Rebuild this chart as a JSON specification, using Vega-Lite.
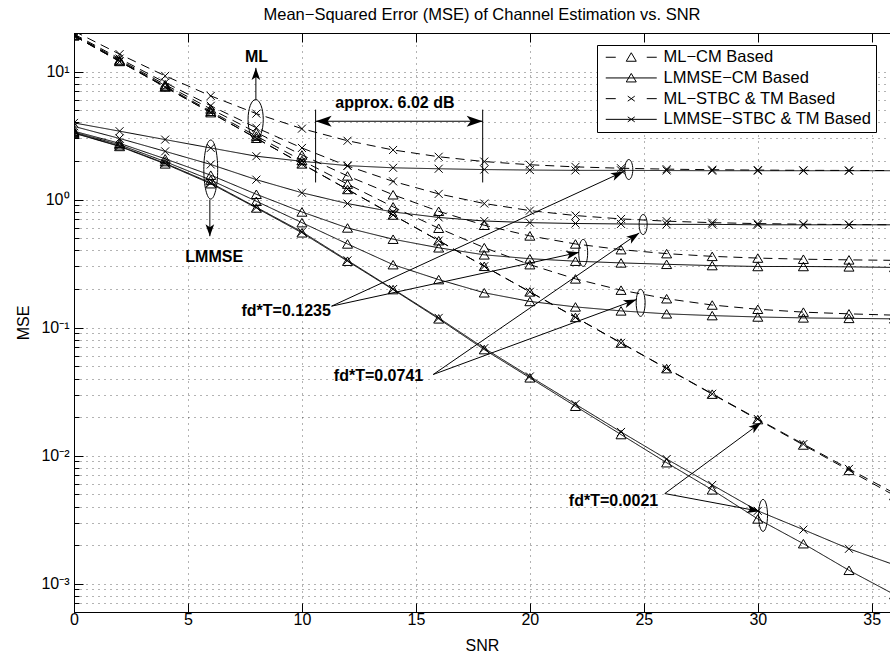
{
  "$schema": "https://vega.github.io/schema/vega-lite/v6.json",
  "width": 816,
  "height": 579,
  "autosize": {"type": "none"},
  "padding": {"left": 74, "top": 33, "right": 0, "bottom": 45},
  "background": "white",
  "title": {"text": "Mean−Squared Error (MSE) of Channel Estimation vs. SNR", "fontSize": 16.5, "fontWeight": "normal", "font": "Liberation Sans", "color": "black", "frame": "group", "offset": 9},
  "config": {
    "view": {"stroke": "black", "strokeWidth": 1},
    "font": "Liberation Sans"
  },
  "datasets": {
    "curves": [
      {"snr":0,"mse":19.33,"est":"ML","sch":"CM","fd":"0.1235"},{"snr":2,"mse":12.32,"est":"ML","sch":"CM","fd":"0.1235"},{"snr":4,"mse":7.90,"est":"ML","sch":"CM","fd":"0.1235"},{"snr":6,"mse":5.10,"est":"ML","sch":"CM","fd":"0.1235"},{"snr":8,"mse":3.34,"est":"ML","sch":"CM","fd":"0.1235"},{"snr":10,"mse":2.23,"est":"ML","sch":"CM","fd":"0.1235"},{"snr":12,"mse":1.53,"est":"ML","sch":"CM","fd":"0.1235"},{"snr":14,"mse":1.09,"est":"ML","sch":"CM","fd":"0.1235"},{"snr":16,"mse":0.81,"est":"ML","sch":"CM","fd":"0.1235"},{"snr":18,"mse":0.63,"est":"ML","sch":"CM","fd":"0.1235"},{"snr":20,"mse":0.52,"est":"ML","sch":"CM","fd":"0.1235"},{"snr":22,"mse":0.45,"est":"ML","sch":"CM","fd":"0.1235"},{"snr":24,"mse":0.406,"est":"ML","sch":"CM","fd":"0.1235"},{"snr":26,"mse":0.378,"est":"ML","sch":"CM","fd":"0.1235"},{"snr":28,"mse":0.36,"est":"ML","sch":"CM","fd":"0.1235"},{"snr":30,"mse":0.349,"est":"ML","sch":"CM","fd":"0.1235"},{"snr":32,"mse":0.342,"est":"ML","sch":"CM","fd":"0.1235"},{"snr":34,"mse":0.338,"est":"ML","sch":"CM","fd":"0.1235"},{"snr":36,"mse":0.335,"est":"ML","sch":"CM","fd":"0.1235"},
      {"snr":0,"mse":19.12,"est":"ML","sch":"CM","fd":"0.0741"},{"snr":2,"mse":12.11,"est":"ML","sch":"CM","fd":"0.0741"},{"snr":4,"mse":7.69,"est":"ML","sch":"CM","fd":"0.0741"},{"snr":6,"mse":4.89,"est":"ML","sch":"CM","fd":"0.0741"},{"snr":8,"mse":3.13,"est":"ML","sch":"CM","fd":"0.0741"},{"snr":10,"mse":2.02,"est":"ML","sch":"CM","fd":"0.0741"},{"snr":12,"mse":1.32,"est":"ML","sch":"CM","fd":"0.0741"},{"snr":14,"mse":0.877,"est":"ML","sch":"CM","fd":"0.0741"},{"snr":16,"mse":0.597,"est":"ML","sch":"CM","fd":"0.0741"},{"snr":18,"mse":0.421,"est":"ML","sch":"CM","fd":"0.0741"},{"snr":20,"mse":0.31,"est":"ML","sch":"CM","fd":"0.0741"},{"snr":22,"mse":0.24,"est":"ML","sch":"CM","fd":"0.0741"},{"snr":24,"mse":0.196,"est":"ML","sch":"CM","fd":"0.0741"},{"snr":26,"mse":0.168,"est":"ML","sch":"CM","fd":"0.0741"},{"snr":28,"mse":0.15,"est":"ML","sch":"CM","fd":"0.0741"},{"snr":30,"mse":0.139,"est":"ML","sch":"CM","fd":"0.0741"},{"snr":32,"mse":0.132,"est":"ML","sch":"CM","fd":"0.0741"},{"snr":34,"mse":0.128,"est":"ML","sch":"CM","fd":"0.0741"},{"snr":36,"mse":0.125,"est":"ML","sch":"CM","fd":"0.0741"},
      {"snr":0,"mse":19.0,"est":"ML","sch":"CM","fd":"0.0021"},{"snr":2,"mse":11.99,"est":"ML","sch":"CM","fd":"0.0021"},{"snr":4,"mse":7.565,"est":"ML","sch":"CM","fd":"0.0021"},{"snr":6,"mse":4.773,"est":"ML","sch":"CM","fd":"0.0021"},{"snr":8,"mse":3.011,"est":"ML","sch":"CM","fd":"0.0021"},{"snr":10,"mse":1.90,"est":"ML","sch":"CM","fd":"0.0021"},{"snr":12,"mse":1.199,"est":"ML","sch":"CM","fd":"0.0021"},{"snr":14,"mse":0.757,"est":"ML","sch":"CM","fd":"0.0021"},{"snr":16,"mse":0.477,"est":"ML","sch":"CM","fd":"0.0021"},{"snr":18,"mse":0.301,"est":"ML","sch":"CM","fd":"0.0021"},{"snr":20,"mse":0.19,"est":"ML","sch":"CM","fd":"0.0021"},{"snr":22,"mse":0.12,"est":"ML","sch":"CM","fd":"0.0021"},{"snr":24,"mse":0.0757,"est":"ML","sch":"CM","fd":"0.0021"},{"snr":26,"mse":0.0478,"est":"ML","sch":"CM","fd":"0.0021"},{"snr":28,"mse":0.0302,"est":"ML","sch":"CM","fd":"0.0021"},{"snr":30,"mse":0.0191,"est":"ML","sch":"CM","fd":"0.0021"},{"snr":32,"mse":0.0121,"est":"ML","sch":"CM","fd":"0.0021"},{"snr":34,"mse":0.00766,"est":"ML","sch":"CM","fd":"0.0021"},{"snr":36,"mse":0.00487,"est":"ML","sch":"CM","fd":"0.0021"},
      {"snr":0,"mse":20.68,"est":"ML","sch":"STBC","fd":"0.1235"},{"snr":2,"mse":13.67,"est":"ML","sch":"STBC","fd":"0.1235"},{"snr":4,"mse":9.25,"est":"ML","sch":"STBC","fd":"0.1235"},{"snr":6,"mse":6.45,"est":"ML","sch":"STBC","fd":"0.1235"},{"snr":8,"mse":4.69,"est":"ML","sch":"STBC","fd":"0.1235"},{"snr":10,"mse":3.58,"est":"ML","sch":"STBC","fd":"0.1235"},{"snr":12,"mse":2.88,"est":"ML","sch":"STBC","fd":"0.1235"},{"snr":14,"mse":2.44,"est":"ML","sch":"STBC","fd":"0.1235"},{"snr":16,"mse":2.16,"est":"ML","sch":"STBC","fd":"0.1235"},{"snr":18,"mse":1.98,"est":"ML","sch":"STBC","fd":"0.1235"},{"snr":20,"mse":1.87,"est":"ML","sch":"STBC","fd":"0.1235"},{"snr":22,"mse":1.8,"est":"ML","sch":"STBC","fd":"0.1235"},{"snr":24,"mse":1.756,"est":"ML","sch":"STBC","fd":"0.1235"},{"snr":26,"mse":1.728,"est":"ML","sch":"STBC","fd":"0.1235"},{"snr":28,"mse":1.71,"est":"ML","sch":"STBC","fd":"0.1235"},{"snr":30,"mse":1.699,"est":"ML","sch":"STBC","fd":"0.1235"},{"snr":32,"mse":1.692,"est":"ML","sch":"STBC","fd":"0.1235"},{"snr":34,"mse":1.688,"est":"ML","sch":"STBC","fd":"0.1235"},{"snr":36,"mse":1.685,"est":"ML","sch":"STBC","fd":"0.1235"},
      {"snr":0,"mse":19.63,"est":"ML","sch":"STBC","fd":"0.0741"},{"snr":2,"mse":12.62,"est":"ML","sch":"STBC","fd":"0.0741"},{"snr":4,"mse":8.2,"est":"ML","sch":"STBC","fd":"0.0741"},{"snr":6,"mse":5.4,"est":"ML","sch":"STBC","fd":"0.0741"},{"snr":8,"mse":3.64,"est":"ML","sch":"STBC","fd":"0.0741"},{"snr":10,"mse":2.53,"est":"ML","sch":"STBC","fd":"0.0741"},{"snr":12,"mse":1.83,"est":"ML","sch":"STBC","fd":"0.0741"},{"snr":14,"mse":1.387,"est":"ML","sch":"STBC","fd":"0.0741"},{"snr":16,"mse":1.107,"est":"ML","sch":"STBC","fd":"0.0741"},{"snr":18,"mse":0.931,"est":"ML","sch":"STBC","fd":"0.0741"},{"snr":20,"mse":0.82,"est":"ML","sch":"STBC","fd":"0.0741"},{"snr":22,"mse":0.75,"est":"ML","sch":"STBC","fd":"0.0741"},{"snr":24,"mse":0.706,"est":"ML","sch":"STBC","fd":"0.0741"},{"snr":26,"mse":0.678,"est":"ML","sch":"STBC","fd":"0.0741"},{"snr":28,"mse":0.66,"est":"ML","sch":"STBC","fd":"0.0741"},{"snr":30,"mse":0.649,"est":"ML","sch":"STBC","fd":"0.0741"},{"snr":32,"mse":0.642,"est":"ML","sch":"STBC","fd":"0.0741"},{"snr":34,"mse":0.638,"est":"ML","sch":"STBC","fd":"0.0741"},{"snr":36,"mse":0.635,"est":"ML","sch":"STBC","fd":"0.0741"},
      {"snr":0,"mse":19.0,"est":"ML","sch":"STBC","fd":"0.0021"},{"snr":2,"mse":11.99,"est":"ML","sch":"STBC","fd":"0.0021"},{"snr":4,"mse":7.565,"est":"ML","sch":"STBC","fd":"0.0021"},{"snr":6,"mse":4.773,"est":"ML","sch":"STBC","fd":"0.0021"},{"snr":8,"mse":3.011,"est":"ML","sch":"STBC","fd":"0.0021"},{"snr":10,"mse":1.9,"est":"ML","sch":"STBC","fd":"0.0021"},{"snr":12,"mse":1.199,"est":"ML","sch":"STBC","fd":"0.0021"},{"snr":14,"mse":0.757,"est":"ML","sch":"STBC","fd":"0.0021"},{"snr":16,"mse":0.478,"est":"ML","sch":"STBC","fd":"0.0021"},{"snr":18,"mse":0.3014,"est":"ML","sch":"STBC","fd":"0.0021"},{"snr":20,"mse":0.1903,"est":"ML","sch":"STBC","fd":"0.0021"},{"snr":22,"mse":0.1202,"est":"ML","sch":"STBC","fd":"0.0021"},{"snr":24,"mse":0.076,"est":"ML","sch":"STBC","fd":"0.0021"},{"snr":26,"mse":0.048,"est":"ML","sch":"STBC","fd":"0.0021"},{"snr":28,"mse":0.0304,"est":"ML","sch":"STBC","fd":"0.0021"},{"snr":30,"mse":0.0193,"est":"ML","sch":"STBC","fd":"0.0021"},{"snr":32,"mse":0.0123,"est":"ML","sch":"STBC","fd":"0.0021"},{"snr":34,"mse":0.00787,"est":"ML","sch":"STBC","fd":"0.0021"},{"snr":36,"mse":0.00507,"est":"ML","sch":"STBC","fd":"0.0021"},
      {"snr":0,"mse":3.42,"est":"LMMSE","sch":"CM","fd":"0.1235"},{"snr":2,"mse":2.75,"est":"LMMSE","sch":"CM","fd":"0.1235"},{"snr":4,"mse":2.08,"est":"LMMSE","sch":"CM","fd":"0.1235"},{"snr":6,"mse":1.55,"est":"LMMSE","sch":"CM","fd":"0.1235"},{"snr":8,"mse":1.1,"est":"LMMSE","sch":"CM","fd":"0.1235"},{"snr":10,"mse":0.8,"est":"LMMSE","sch":"CM","fd":"0.1235"},{"snr":12,"mse":0.6,"est":"LMMSE","sch":"CM","fd":"0.1235"},{"snr":14,"mse":0.49,"est":"LMMSE","sch":"CM","fd":"0.1235"},{"snr":16,"mse":0.42,"est":"LMMSE","sch":"CM","fd":"0.1235"},{"snr":18,"mse":0.37,"est":"LMMSE","sch":"CM","fd":"0.1235"},{"snr":20,"mse":0.345,"est":"LMMSE","sch":"CM","fd":"0.1235"},{"snr":22,"mse":0.33,"est":"LMMSE","sch":"CM","fd":"0.1235"},{"snr":24,"mse":0.32,"est":"LMMSE","sch":"CM","fd":"0.1235"},{"snr":26,"mse":0.312,"est":"LMMSE","sch":"CM","fd":"0.1235"},{"snr":28,"mse":0.305,"est":"LMMSE","sch":"CM","fd":"0.1235"},{"snr":30,"mse":0.3,"est":"LMMSE","sch":"CM","fd":"0.1235"},{"snr":32,"mse":0.3,"est":"LMMSE","sch":"CM","fd":"0.1235"},{"snr":34,"mse":0.298,"est":"LMMSE","sch":"CM","fd":"0.1235"},{"snr":36,"mse":0.295,"est":"LMMSE","sch":"CM","fd":"0.1235"},
      {"snr":0,"mse":3.36,"est":"LMMSE","sch":"CM","fd":"0.0741"},{"snr":2,"mse":2.68,"est":"LMMSE","sch":"CM","fd":"0.0741"},{"snr":4,"mse":1.98,"est":"LMMSE","sch":"CM","fd":"0.0741"},{"snr":6,"mse":1.42,"est":"LMMSE","sch":"CM","fd":"0.0741"},{"snr":8,"mse":0.97,"est":"LMMSE","sch":"CM","fd":"0.0741"},{"snr":10,"mse":0.66,"est":"LMMSE","sch":"CM","fd":"0.0741"},{"snr":12,"mse":0.45,"est":"LMMSE","sch":"CM","fd":"0.0741"},{"snr":14,"mse":0.31,"est":"LMMSE","sch":"CM","fd":"0.0741"},{"snr":16,"mse":0.237,"est":"LMMSE","sch":"CM","fd":"0.0741"},{"snr":18,"mse":0.187,"est":"LMMSE","sch":"CM","fd":"0.0741"},{"snr":20,"mse":0.16,"est":"LMMSE","sch":"CM","fd":"0.0741"},{"snr":22,"mse":0.145,"est":"LMMSE","sch":"CM","fd":"0.0741"},{"snr":24,"mse":0.135,"est":"LMMSE","sch":"CM","fd":"0.0741"},{"snr":26,"mse":0.128,"est":"LMMSE","sch":"CM","fd":"0.0741"},{"snr":28,"mse":0.124,"est":"LMMSE","sch":"CM","fd":"0.0741"},{"snr":30,"mse":0.121,"est":"LMMSE","sch":"CM","fd":"0.0741"},{"snr":32,"mse":0.119,"est":"LMMSE","sch":"CM","fd":"0.0741"},{"snr":34,"mse":0.118,"est":"LMMSE","sch":"CM","fd":"0.0741"},{"snr":36,"mse":0.117,"est":"LMMSE","sch":"CM","fd":"0.0741"},
      {"snr":0,"mse":3.3,"est":"LMMSE","sch":"CM","fd":"0.0021"},{"snr":2,"mse":2.6,"est":"LMMSE","sch":"CM","fd":"0.0021"},{"snr":4,"mse":1.9,"est":"LMMSE","sch":"CM","fd":"0.0021"},{"snr":6,"mse":1.33,"est":"LMMSE","sch":"CM","fd":"0.0021"},{"snr":8,"mse":0.86,"est":"LMMSE","sch":"CM","fd":"0.0021"},{"snr":10,"mse":0.55,"est":"LMMSE","sch":"CM","fd":"0.0021"},{"snr":12,"mse":0.33,"est":"LMMSE","sch":"CM","fd":"0.0021"},{"snr":14,"mse":0.198,"est":"LMMSE","sch":"CM","fd":"0.0021"},{"snr":16,"mse":0.117,"est":"LMMSE","sch":"CM","fd":"0.0021"},{"snr":18,"mse":0.0673,"est":"LMMSE","sch":"CM","fd":"0.0021"},{"snr":20,"mse":0.0405,"est":"LMMSE","sch":"CM","fd":"0.0021"},{"snr":22,"mse":0.0243,"est":"LMMSE","sch":"CM","fd":"0.0021"},{"snr":24,"mse":0.0146,"est":"LMMSE","sch":"CM","fd":"0.0021"},{"snr":26,"mse":0.0088,"est":"LMMSE","sch":"CM","fd":"0.0021"},{"snr":28,"mse":0.0054,"est":"LMMSE","sch":"CM","fd":"0.0021"},{"snr":30,"mse":0.0032,"est":"LMMSE","sch":"CM","fd":"0.0021"},{"snr":32,"mse":0.00205,"est":"LMMSE","sch":"CM","fd":"0.0021"},{"snr":34,"mse":0.00127,"est":"LMMSE","sch":"CM","fd":"0.0021"},{"snr":36,"mse":0.00082,"est":"LMMSE","sch":"CM","fd":"0.0021"},
      {"snr":0,"mse":3.97,"est":"LMMSE","sch":"STBC","fd":"0.1235"},{"snr":2,"mse":3.42,"est":"LMMSE","sch":"STBC","fd":"0.1235"},{"snr":4,"mse":2.94,"est":"LMMSE","sch":"STBC","fd":"0.1235"},{"snr":6,"mse":2.53,"est":"LMMSE","sch":"STBC","fd":"0.1235"},{"snr":8,"mse":2.18,"est":"LMMSE","sch":"STBC","fd":"0.1235"},{"snr":10,"mse":1.99,"est":"LMMSE","sch":"STBC","fd":"0.1235"},{"snr":12,"mse":1.84,"est":"LMMSE","sch":"STBC","fd":"0.1235"},{"snr":14,"mse":1.77,"est":"LMMSE","sch":"STBC","fd":"0.1235"},{"snr":16,"mse":1.74,"est":"LMMSE","sch":"STBC","fd":"0.1235"},{"snr":18,"mse":1.715,"est":"LMMSE","sch":"STBC","fd":"0.1235"},{"snr":20,"mse":1.7,"est":"LMMSE","sch":"STBC","fd":"0.1235"},{"snr":22,"mse":1.69,"est":"LMMSE","sch":"STBC","fd":"0.1235"},{"snr":24,"mse":1.69,"est":"LMMSE","sch":"STBC","fd":"0.1235"},{"snr":26,"mse":1.685,"est":"LMMSE","sch":"STBC","fd":"0.1235"},{"snr":28,"mse":1.68,"est":"LMMSE","sch":"STBC","fd":"0.1235"},{"snr":30,"mse":1.68,"est":"LMMSE","sch":"STBC","fd":"0.1235"},{"snr":32,"mse":1.68,"est":"LMMSE","sch":"STBC","fd":"0.1235"},{"snr":34,"mse":1.68,"est":"LMMSE","sch":"STBC","fd":"0.1235"},{"snr":36,"mse":1.68,"est":"LMMSE","sch":"STBC","fd":"0.1235"},
      {"snr":0,"mse":3.73,"est":"LMMSE","sch":"STBC","fd":"0.0741"},{"snr":2,"mse":3.0,"est":"LMMSE","sch":"STBC","fd":"0.0741"},{"snr":4,"mse":2.38,"est":"LMMSE","sch":"STBC","fd":"0.0741"},{"snr":6,"mse":1.88,"est":"LMMSE","sch":"STBC","fd":"0.0741"},{"snr":8,"mse":1.43,"est":"LMMSE","sch":"STBC","fd":"0.0741"},{"snr":10,"mse":1.13,"est":"LMMSE","sch":"STBC","fd":"0.0741"},{"snr":12,"mse":0.93,"est":"LMMSE","sch":"STBC","fd":"0.0741"},{"snr":14,"mse":0.8,"est":"LMMSE","sch":"STBC","fd":"0.0741"},{"snr":16,"mse":0.725,"est":"LMMSE","sch":"STBC","fd":"0.0741"},{"snr":18,"mse":0.68,"est":"LMMSE","sch":"STBC","fd":"0.0741"},{"snr":20,"mse":0.66,"est":"LMMSE","sch":"STBC","fd":"0.0741"},{"snr":22,"mse":0.65,"est":"LMMSE","sch":"STBC","fd":"0.0741"},{"snr":24,"mse":0.645,"est":"LMMSE","sch":"STBC","fd":"0.0741"},{"snr":26,"mse":0.64,"est":"LMMSE","sch":"STBC","fd":"0.0741"},{"snr":28,"mse":0.64,"est":"LMMSE","sch":"STBC","fd":"0.0741"},{"snr":30,"mse":0.635,"est":"LMMSE","sch":"STBC","fd":"0.0741"},{"snr":32,"mse":0.635,"est":"LMMSE","sch":"STBC","fd":"0.0741"},{"snr":34,"mse":0.635,"est":"LMMSE","sch":"STBC","fd":"0.0741"},{"snr":36,"mse":0.635,"est":"LMMSE","sch":"STBC","fd":"0.0741"},
      {"snr":0,"mse":3.32,"est":"LMMSE","sch":"STBC","fd":"0.0021"},{"snr":2,"mse":2.62,"est":"LMMSE","sch":"STBC","fd":"0.0021"},{"snr":4,"mse":1.92,"est":"LMMSE","sch":"STBC","fd":"0.0021"},{"snr":6,"mse":1.35,"est":"LMMSE","sch":"STBC","fd":"0.0021"},{"snr":8,"mse":0.87,"est":"LMMSE","sch":"STBC","fd":"0.0021"},{"snr":10,"mse":0.56,"est":"LMMSE","sch":"STBC","fd":"0.0021"},{"snr":12,"mse":0.335,"est":"LMMSE","sch":"STBC","fd":"0.0021"},{"snr":14,"mse":0.2,"est":"LMMSE","sch":"STBC","fd":"0.0021"},{"snr":16,"mse":0.119,"est":"LMMSE","sch":"STBC","fd":"0.0021"},{"snr":18,"mse":0.069,"est":"LMMSE","sch":"STBC","fd":"0.0021"},{"snr":20,"mse":0.0415,"est":"LMMSE","sch":"STBC","fd":"0.0021"},{"snr":22,"mse":0.0252,"est":"LMMSE","sch":"STBC","fd":"0.0021"},{"snr":24,"mse":0.0153,"est":"LMMSE","sch":"STBC","fd":"0.0021"},{"snr":26,"mse":0.0094,"est":"LMMSE","sch":"STBC","fd":"0.0021"},{"snr":28,"mse":0.0059,"est":"LMMSE","sch":"STBC","fd":"0.0021"},{"snr":30,"mse":0.0037,"est":"LMMSE","sch":"STBC","fd":"0.0021"},{"snr":32,"mse":0.00264,"est":"LMMSE","sch":"STBC","fd":"0.0021"},{"snr":34,"mse":0.00187,"est":"LMMSE","sch":"STBC","fd":"0.0021"},{"snr":36,"mse":0.0014,"est":"LMMSE","sch":"STBC","fd":"0.0021"}
    ],
    "segments": [
      {"x":11.30,"y":0.147,"x2":24.12,"y2":1.655},
      {"x":11.30,"y":0.147,"x2":22.16,"y2":0.387},
      {"x":15.76,"y":0.043,"x2":24.80,"y2":0.549},
      {"x":15.76,"y":0.043,"x2":24.68,"y2":0.1655},
      {"x":25.92,"y":0.00505,"x2":30.16,"y2":0.0182},
      {"x":25.92,"y":0.00505,"x2":30.09,"y2":0.00367},
      {"x":7.98,"y":6.05,"x2":7.98,"y2":10.68},
      {"x":5.96,"y":1.0,"x2":5.96,"y2":0.517},
      {"x":10.6,"y":4.09,"x2":17.93,"y2":4.09},
      {"x":10.6,"y":1.36,"x2":10.6,"y2":5.04},
      {"x":17.93,"y":1.36,"x2":17.93,"y2":5.04}
    ]
  },
  "layer": [
    {
      "data": {"name": "curves"},
      "mark": {"type": "line", "color": "black", "strokeWidth": 1, "clip": true},
      "encoding": {
        "x": {"field": "snr", "type": "quantitative", "scale": {"domain": [0, 35.8], "nice": false, "zero": false},
          "axis": {"orient": "bottom", "values": [0,5,10,15,20,25,30,35], "title": "SNR", "grid": true, "gridDash": [1,5], "gridColor": "black", "gridOpacity": 0.6, "gridWidth": 1, "domain": false, "tickSize": -9, "tickColor": "black", "tickWidth": 1, "labelFontSize": 16, "labelColor": "black", "labelFont": "Liberation Sans", "labelPadding": 8, "labelFlush": false, "titleFontSize": 16, "titleFontWeight": "normal", "titleColor": "black", "titleFont": "Liberation Sans", "titlePadding": 10}},
        "y": {"field": "mse", "type": "quantitative", "scale": {"type": "log", "domain": [0.0006, 20], "nice": false},
          "axis": {"values": [0.0006,0.0007,0.0008,0.0009,0.001,0.002,0.003,0.004,0.005,0.006,0.007,0.008,0.009,0.01,0.02,0.03,0.04,0.05,0.06,0.07,0.08,0.09,0.1,0.2,0.3,0.4,0.5,0.6,0.7,0.8,0.9,1,2,3,4,5,6,7,8,9,10],
            "title": "MSE", "grid": true, "gridDash": [1,5], "gridColor": "black", "gridOpacity": 0.6, "gridWidth": 1, "domain": false,
            "tickSize": {"condition": {"test": "indexof([0.001,0.01,0.1,1,10], datum.value) >= 0", "value": -9}, "value": -5},
            "tickColor": "black", "tickWidth": 1, "labelOverlap": false, "labelFontSize": 16, "labelColor": "black", "labelFont": "Liberation Sans", "labelPadding": 14,
            "labelExpr": "datum.value == 10 ? '10¹' : datum.value == 1 ? '10⁰' : datum.value == 0.1 ? '10⁻¹' : datum.value == 0.01 ? '10⁻²' : datum.value == 0.001 ? '10⁻³' : ''",
            "titleFontSize": 16, "titleFontWeight": "normal", "titleColor": "black", "titleFont": "Liberation Sans", "titlePadding": 9}},
        "detail": [{"field": "est"}, {"field": "sch"}, {"field": "fd"}],
        "strokeDash": {"field": "est", "type": "nominal", "scale": {"domain": ["ML", "LMMSE"], "range": [[9, 6], [1, 0]]}, "legend": null}
      }
    },
    {
      "data": {"name": "curves"},
      "mark": {"type": "point", "filled": false, "color": "black", "strokeWidth": 1, "size": 100, "opacity": 1, "clip": true},
      "encoding": {
        "x": {"field": "snr", "type": "quantitative", "axis": {"orient": "top", "values": [5,10,15,20,25,30,35], "labels": false, "title": null, "grid": false, "domain": false, "tickSize": -9, "tickColor": "black"}},
        "y": {"field": "mse", "type": "quantitative"},
        "shape": {"field": "sch", "type": "nominal", "scale": {"domain": ["CM", "STBC"], "range": ["M -1 0.85 L 1 0.85 L 0 -0.85 Z", "M -0.8 -0.8 L 0.8 0.8 M -0.8 0.8 L 0.8 -0.8"]}, "legend": null}
      }
    },
    {
      "data": {"name": "segments"},
      "mark": {"type": "rule", "color": "black", "strokeWidth": 1},
      "encoding": {
        "x": {"field": "x", "type": "quantitative", "axis": null},
        "y": {"field": "y", "type": "quantitative"},
        "x2": {"field": "x2"},
        "y2": {"field": "y2"}
      }
    },
    {
      "data": {"values": [{"x": 24.34, "y": 1.716}, {"x": 24.97, "y": 0.638}]},
      "mark": {"type": "point", "shape": "M 0 -1 A 0.4 1 0 1 1 0 1 A 0.4 1 0 1 1 0 -1 Z", "size": 400, "filled": false, "color": "black", "strokeWidth": 1, "opacity": 1},
      "encoding": {"x": {"field": "x", "type": "quantitative", "axis": null}, "y": {"field": "y", "type": "quantitative"}}
    },
    {
      "data": {"values": [{"x": 22.34, "y": 0.383}, {"x": 24.86, "y": 0.156}]},
      "mark": {"type": "point", "shape": "M 0 -1 A 0.33 1 0 1 1 0 1 A 0.33 1 0 1 1 0 -1 Z", "size": 729, "filled": false, "color": "black", "strokeWidth": 1, "opacity": 1},
      "encoding": {"x": {"field": "x", "type": "quantitative", "axis": null}, "y": {"field": "y", "type": "quantitative"}}
    },
    {
      "data": {"values": [{"x": 30.23, "y": 0.00341}]},
      "mark": {"type": "point", "shape": "M 0 -1 A 0.28 1 0 1 1 0 1 A 0.28 1 0 1 1 0 -1 Z", "size": 1024, "filled": false, "color": "black", "strokeWidth": 1, "opacity": 1},
      "encoding": {"x": {"field": "x", "type": "quantitative", "axis": null}, "y": {"field": "y", "type": "quantitative"}}
    },
    {
      "data": {"values": [{"x": 7.97, "y": 4.217}]},
      "mark": {"type": "point", "shape": "M 0 -1 A 0.38 1 0 1 1 0 1 A 0.38 1 0 1 1 0 -1 Z", "size": 1600, "filled": false, "color": "black", "strokeWidth": 1, "opacity": 1},
      "encoding": {"x": {"field": "x", "type": "quantitative", "axis": null}, "y": {"field": "y", "type": "quantitative"}}
    },
    {
      "data": {"values": [{"x": 6.0, "y": 1.716}]},
      "mark": {"type": "point", "shape": "M 0 -1 A 0.235 1 0 1 1 0 1 A 0.235 1 0 1 1 0 -1 Z", "size": 3481, "filled": false, "color": "black", "strokeWidth": 1, "opacity": 1},
      "encoding": {"x": {"field": "x", "type": "quantitative", "axis": null}, "y": {"field": "y", "type": "quantitative"}}
    },
    {"data": {"values": [{"x": 24.12, "y": 1.655}]}, "mark": {"type": "point", "shape": "M 0 0 L 0.32 1 L 0 0.75 L -0.32 1 Z", "size": 676, "filled": true, "color": "black", "opacity": 1, "angle": 65.3}, "encoding": {"x": {"field": "x", "type": "quantitative", "axis": null}, "y": {"field": "y", "type": "quantitative"}}},
    {"data": {"values": [{"x": 22.16, "y": 0.387}]}, "mark": {"type": "point", "shape": "M 0 0 L 0.32 1 L 0 0.75 L -0.32 1 Z", "size": 676, "filled": true, "color": "black", "opacity": 1, "angle": 77.7}, "encoding": {"x": {"field": "x", "type": "quantitative", "axis": null}, "y": {"field": "y", "type": "quantitative"}}},
    {"data": {"values": [{"x": 24.80, "y": 0.549}]}, "mark": {"type": "point", "shape": "M 0 0 L 0.32 1 L 0 0.75 L -0.32 1 Z", "size": 676, "filled": true, "color": "black", "opacity": 1, "angle": 55.5}, "encoding": {"x": {"field": "x", "type": "quantitative", "axis": null}, "y": {"field": "y", "type": "quantitative"}}},
    {"data": {"values": [{"x": 24.68, "y": 0.1655}]}, "mark": {"type": "point", "shape": "M 0 0 L 0.32 1 L 0 0.75 L -0.32 1 Z", "size": 676, "filled": true, "color": "black", "opacity": 1, "angle": 69.8}, "encoding": {"x": {"field": "x", "type": "quantitative", "axis": null}, "y": {"field": "y", "type": "quantitative"}}},
    {"data": {"values": [{"x": 30.16, "y": 0.0182}]}, "mark": {"type": "point", "shape": "M 0 0 L 0.32 1 L 0 0.75 L -0.32 1 Z", "size": 676, "filled": true, "color": "black", "opacity": 1, "angle": 53.6}, "encoding": {"x": {"field": "x", "type": "quantitative", "axis": null}, "y": {"field": "y", "type": "quantitative"}}},
    {"data": {"values": [{"x": 30.09, "y": 0.00367}]}, "mark": {"type": "point", "shape": "M 0 0 L 0.32 1 L 0 0.75 L -0.32 1 Z", "size": 676, "filled": true, "color": "black", "opacity": 1, "angle": 100.6}, "encoding": {"x": {"field": "x", "type": "quantitative", "axis": null}, "y": {"field": "y", "type": "quantitative"}}},
    {"data": {"values": [{"x": 7.98, "y": 10.68}]}, "mark": {"type": "point", "shape": "M 0 0 L 0.36 1 L 0 0.75 L -0.36 1 Z", "size": 576, "filled": true, "color": "black", "opacity": 1, "angle": 0}, "encoding": {"x": {"field": "x", "type": "quantitative", "axis": null}, "y": {"field": "y", "type": "quantitative"}}},
    {"data": {"values": [{"x": 5.96, "y": 0.517}]}, "mark": {"type": "point", "shape": "M 0 0 L 0.36 1 L 0 0.75 L -0.36 1 Z", "size": 576, "filled": true, "color": "black", "opacity": 1, "angle": 180}, "encoding": {"x": {"field": "x", "type": "quantitative", "axis": null}, "y": {"field": "y", "type": "quantitative"}}},
    {"data": {"values": [{"x": 10.6, "y": 4.09}]}, "mark": {"type": "point", "shape": "M 0 0 L 0.35 1 L 0 0.75 L -0.35 1 Z", "size": 1024, "filled": true, "color": "black", "opacity": 1, "angle": 270}, "encoding": {"x": {"field": "x", "type": "quantitative", "axis": null}, "y": {"field": "y", "type": "quantitative"}}},
    {"data": {"values": [{"x": 17.93, "y": 4.09}]}, "mark": {"type": "point", "shape": "M 0 0 L 0.35 1 L 0 0.75 L -0.35 1 Z", "size": 1024, "filled": true, "color": "black", "opacity": 1, "angle": 90}, "encoding": {"x": {"field": "x", "type": "quantitative", "axis": null}, "y": {"field": "y", "type": "quantitative"}}},
    {
      "data": {"values": [{"x": 11.27, "y": 0.135, "label": "fd*T=0.1235"}, {"x": 15.32, "y": 0.0417, "label": "fd*T=0.0741"}, {"x": 25.63, "y": 0.0044, "label": "fd*T=0.0021"}]},
      "mark": {"type": "text", "align": "right", "baseline": "middle", "font": "Liberation Sans", "fontWeight": "bold", "fontSize": 16, "color": "black"},
      "encoding": {"x": {"field": "x", "type": "quantitative", "axis": null}, "y": {"field": "y", "type": "quantitative"}, "text": {"field": "label"}}
    },
    {
      "data": {"values": [{"x": 8.01, "y": 13.06, "label": "ML"}, {"x": 6.15, "y": 0.357, "label": "LMMSE"}, {"x": 14.08, "y": 5.64, "label": "approx. 6.02 dB"}]},
      "mark": {"type": "text", "align": "center", "baseline": "middle", "font": "Liberation Sans", "fontWeight": "bold", "fontSize": 16, "color": "black"},
      "encoding": {"x": {"field": "x", "type": "quantitative", "axis": null}, "y": {"field": "y", "type": "quantitative"}, "text": {"field": "label"}}
    },
    {
      "data": {"values": [{"series": "ML−CM Based"}, {"series": "LMMSE−CM Based"}, {"series": "ML−STBC & TM Based"}, {"series": "LMMSE−STBC & TM Based"}]},
      "mark": {"type": "point", "filled": false, "color": "black", "opacity": 0},
      "encoding": {
        "shape": {"field": "series", "type": "nominal",
          "scale": {"domain": ["ML−CM Based", "LMMSE−CM Based", "ML−STBC & TM Based", "LMMSE−STBC & TM Based"],
            "range": ["M -5.1 0 L -3.1 0 M 3.1 0 L 5.1 0 M -1 0.8 L 1 0.8 L 0 -0.9 Z", "M -5.1 0 L 5.1 0 M -1 0.8 L 1 0.8 L 0 -0.9 Z", "M -5.1 0 L -3.1 0 M 3.1 0 L 5.1 0 M -0.7 -0.5 L 0.7 0.5 M -0.7 0.5 L 0.7 -0.5", "M -5.1 0 L 5.1 0 M -0.7 -0.5 L 0.7 0.5 M -0.7 0.5 L 0.7 -0.5"]},
          "legend": {"orient": "none", "legendX": 523, "legendY": 12, "title": null, "strokeColor": "black", "fillColor": "white", "padding": 4, "symbolSize": 100, "symbolStrokeWidth": 1, "symbolStrokeColor": "black", "symbolFillColor": "transparent", "symbolOpacity": 1, "symbolOffset": 22, "labelOffset": 24, "labelFontSize": 16.5, "labelFont": "Liberation Sans", "labelColor": "black", "rowPadding": 3.7, "labelLimit": 400, "cornerRadius": 0}}
      }
    }
  ],
  "resolve": {"scale": {"shape": "independent"}, "legend": {"shape": "independent"}, "axis": {"x": "independent"}}
}
